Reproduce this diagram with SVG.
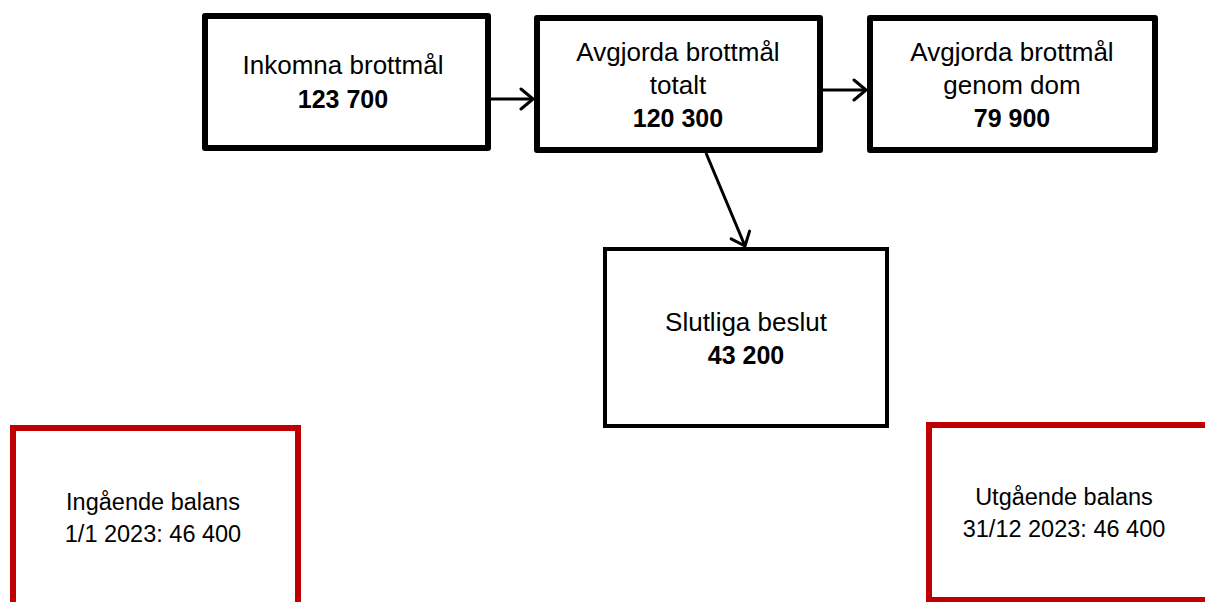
<svg xmlns="http://www.w3.org/2000/svg" width="1205" height="602" viewBox="0 0 1205 602">
<style>
.box{fill:#fff;stroke:#000;stroke-width:6;stroke-linejoin:round}
.box2{fill:#fff;stroke:#000;stroke-width:4}
.red{fill:#fff;stroke:#c00000;stroke-width:6}
.t{font-family:"Liberation Sans",Arial,sans-serif;font-size:26px;fill:#000;text-anchor:middle}
.b{font-weight:bold;font-size:25px}
.s{font-size:23.5px}
.conn{stroke:#000;stroke-width:3;fill:none}
</style>
<defs>
<marker id="arr" markerUnits="userSpaceOnUse" markerWidth="16" markerHeight="24" refX="14" refY="12" orient="auto" viewBox="0 0 16 24">
<path d="M2,2 L14,12 L2,22" fill="none" stroke="#000" stroke-width="3" stroke-linecap="round" stroke-linejoin="round"/>
</marker>
</defs>
<g id="n1">
<rect class="box" x="205" y="16" width="283" height="132"/>
<text class="t" x="343" y="74">Inkomna brottmål</text>
<text class="t b" x="343" y="108">123 700</text>
</g>
<g id="n2">
<rect class="box" x="537" y="18" width="283" height="132"/>
<text class="t" x="678" y="61">Avgjorda brottmål</text>
<text class="t" x="678" y="94">totalt</text>
<text class="t b" x="678" y="127">120 300</text>
</g>
<g id="n3">
<rect class="box" x="870" y="18" width="285" height="132"/>
<text class="t" x="1012" y="61">Avgjorda brottmål</text>
<text class="t" x="1012" y="94">genom dom</text>
<text class="t b" x="1012" y="127">79 900</text>
</g>
<g id="n4">
<rect class="box2" x="605" y="249" width="282" height="177"/>
<text class="t" x="746" y="331">Slutliga beslut</text>
<text class="t b" x="746" y="364">43 200</text>
</g>
<g id="n5">
<rect class="red" x="13" y="428" width="285" height="190"/>
<text class="t s" x="153" y="510">Ingående balans</text>
<text class="t s" x="153" y="542">1/1 2023: 46 400</text>
</g>
<g id="n6">
<rect class="red" x="929" y="425" width="290" height="175"/>
<text class="t s" x="1064" y="505">Utgående balans</text>
<text class="t s" x="1064" y="537">31/12 2023: 46 400</text>
</g>
<g id="connectors">
<line class="conn" x1="491" y1="99" x2="533" y2="99" marker-end="url(#arr)"/>
<line class="conn" x1="823" y1="90" x2="866" y2="90" marker-end="url(#arr)"/>
<line class="conn" x1="706" y1="153" x2="745" y2="246" marker-end="url(#arr)"/>
</g>
</svg>
